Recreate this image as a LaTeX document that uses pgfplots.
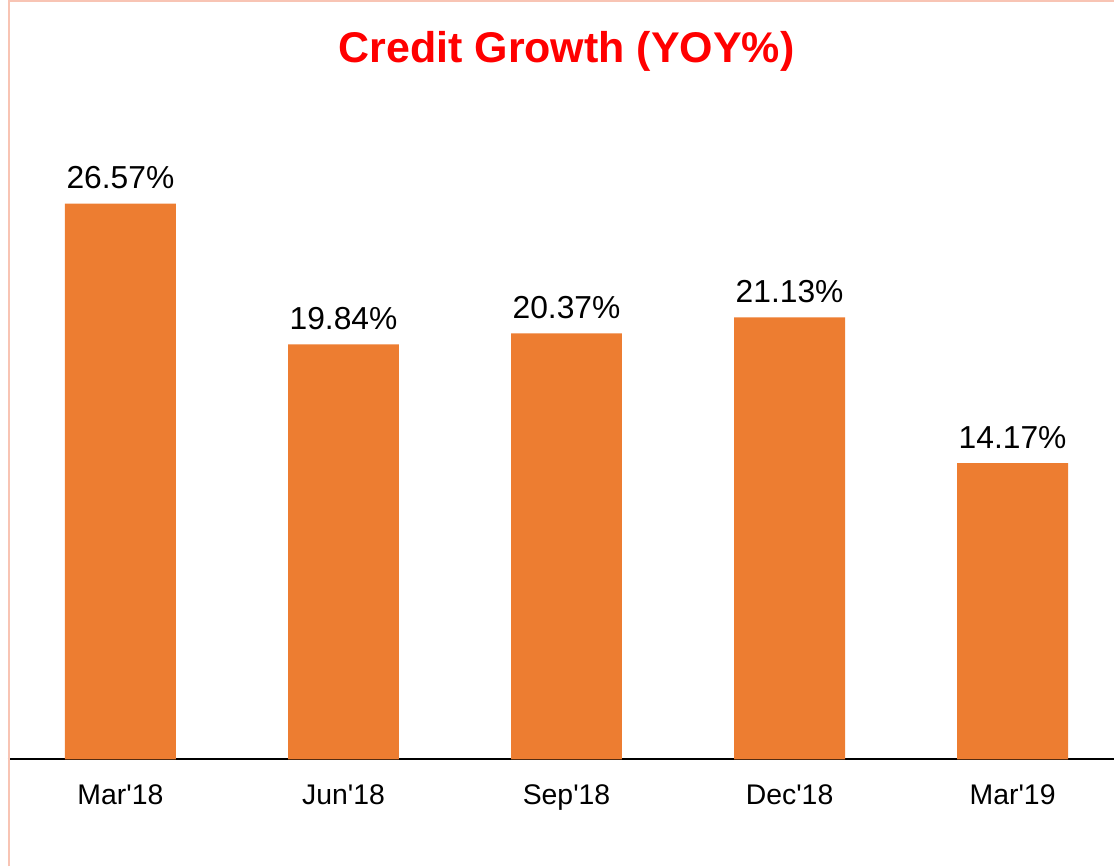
\documentclass[border=0pt]{standalone}
\usepackage{pgfplots}
\pgfplotsset{compat=1.18}
\usepackage{fontspec}
\setmainfont{Liberation Sans}
\definecolor{barorange}{HTML}{ED7D31}
\definecolor{framepink}{HTML}{F8C4B4}
\newcommand{\q}{\textquotesingle}
\begin{document}
\begin{tikzpicture}
\begin{axis}[
  at={(0,0)}, anchor=south west,
  scale only axis,
  width=553.5pt, height=330pt,
  xmin=-0.504, xmax=4.455,
  ymin=0, ymax=31.53,
  axis x line=bottom,
  axis y line=none,
  axis line style={black, line width=0.9pt, -},
  xtick={0,1,2,3,4},
  xticklabels={Mar\q18,Jun\q18,Sep\q18,Dec\q18,Mar\q19},
  major tick length=0pt,
  xticklabel style={font=\fontsize{14.2}{16}\selectfont, anchor=base, yshift=-22.5pt, inner sep=0pt},
  ybar, bar width=55.5pt,
  nodes near coords={\pgfmathprintnumber[fixed,fixed zerofill,precision=2]{\pgfplotspointmeta}\%},
  /pgf/number format/assume math mode=true,
  every node near coord/.append style={font=\fontsize{15.9}{18}\selectfont, anchor=base, yshift=7.5pt, inner sep=0pt, black},
  clip=false,
]
\addplot[fill=barorange, draw=none] coordinates {(0,26.57) (1,19.84) (2,20.37) (3,21.13) (4,14.17)};
\node[font=\fontsize{21.5}{24}\selectfont\bfseries, text=red, anchor=base] at (axis cs:2,33.3) {Credit Growth (YOY\%)};
\end{axis}
\path[use as bounding box] (-4pt,-53.5pt) rectangle (553.5pt,380pt);
\draw[framepink, line width=1pt] (0.5pt,-53.5pt) -- (0.5pt,379.3pt) -- (553.5pt,379.3pt);
\end{tikzpicture}
\end{document}
